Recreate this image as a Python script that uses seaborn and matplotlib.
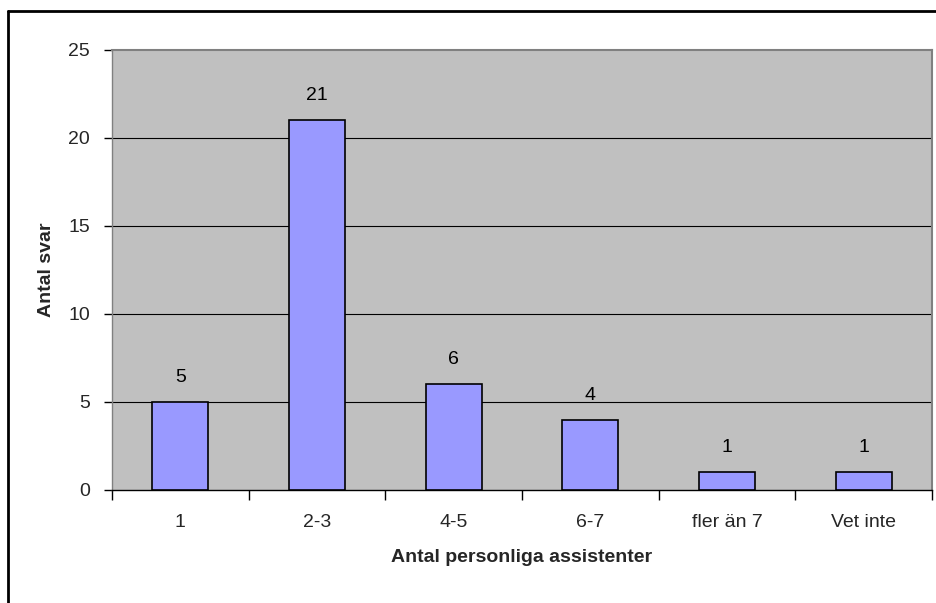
import matplotlib
matplotlib.use("Agg")
import matplotlib.pyplot as plt
from matplotlib.lines import Line2D
import seaborn as sns
import pandas as pd

categories = ["1", "2-3", "4-5", "6-7", "fler än 7", "Vet inte"]
values = [5, 21, 6, 4, 1, 1]
y_ticks = [0, 5, 10, 15, 20, 25]

sns.set_theme(style="white")
plt.rcParams['font.family'] = ['Liberation Sans', 'DejaVu Sans']

df = pd.DataFrame({"cat": categories, "val": values})

fig = plt.figure(figsize=(9.37, 6.03), dpi=100)
ax = fig.add_axes([112/937, 1-490/603, (932-112)/937, (490-50)/603])
ax.set_facecolor("#C0C0C0")

sns.barplot(data=df, x="cat", y="val", ax=ax, color="#9999FF", width=0.41,
            edgecolor="black", linewidth=1.2, saturation=1, zorder=3)

ax.set_ylim(0, 25)
ax.set_xlim(-0.5, len(categories) - 0.5)
ax.set_yticks(y_ticks)
ax.set_yticklabels([str(t) for t in y_ticks], fontsize=14)
for t in y_ticks[1:-1]:
    ax.axhline(t, color="black", linewidth=0.8, zorder=1)

# x ticks at category boundaries, labels at centers
ax.set_xticks([i - 0.5 for i in range(len(categories) + 1)])
ax.set_xticklabels([""] * (len(categories) + 1))
ax.set_xticks(list(range(len(categories))), minor=True)
ax.set_xticklabels(categories, minor=True, fontsize=14)
ax.tick_params(axis="x", which="major", direction="out", length=7, width=1, color="black", bottom=True)
ax.tick_params(axis="x", which="minor", length=0, pad=17)
ax.tick_params(axis="y", direction="out", length=6, width=1, color="black", left=True, pad=10)

for i, v in enumerate(values):
    ax.text(i, v + 1.14, str(v), ha="center", va="baseline", fontsize=14, color="black")

ax.set_xlabel("Antal personliga assistenter", fontsize=14, fontweight="bold", labelpad=13)
ax.set_ylabel("Antal svar", fontsize=14, fontweight="bold", labelpad=9.5)

for s in ["top", "right"]:
    ax.spines[s].set_color("#808080")
    ax.spines[s].set_linewidth(1.5)
ax.spines["left"].set_color("#808080")
ax.spines["left"].set_linewidth(1)
ax.spines["bottom"].set_color("black")
ax.spines["bottom"].set_linewidth(1)

# outer chart frame
fig.add_artist(Line2D([8/937, 8/937], [0, 1-11/603], transform=fig.transFigure, color="black", linewidth=2))
fig.add_artist(Line2D([8/937, 1], [1-11/603, 1-11/603], transform=fig.transFigure, color="black", linewidth=2))

fig.savefig("out.png", dpi=100)
